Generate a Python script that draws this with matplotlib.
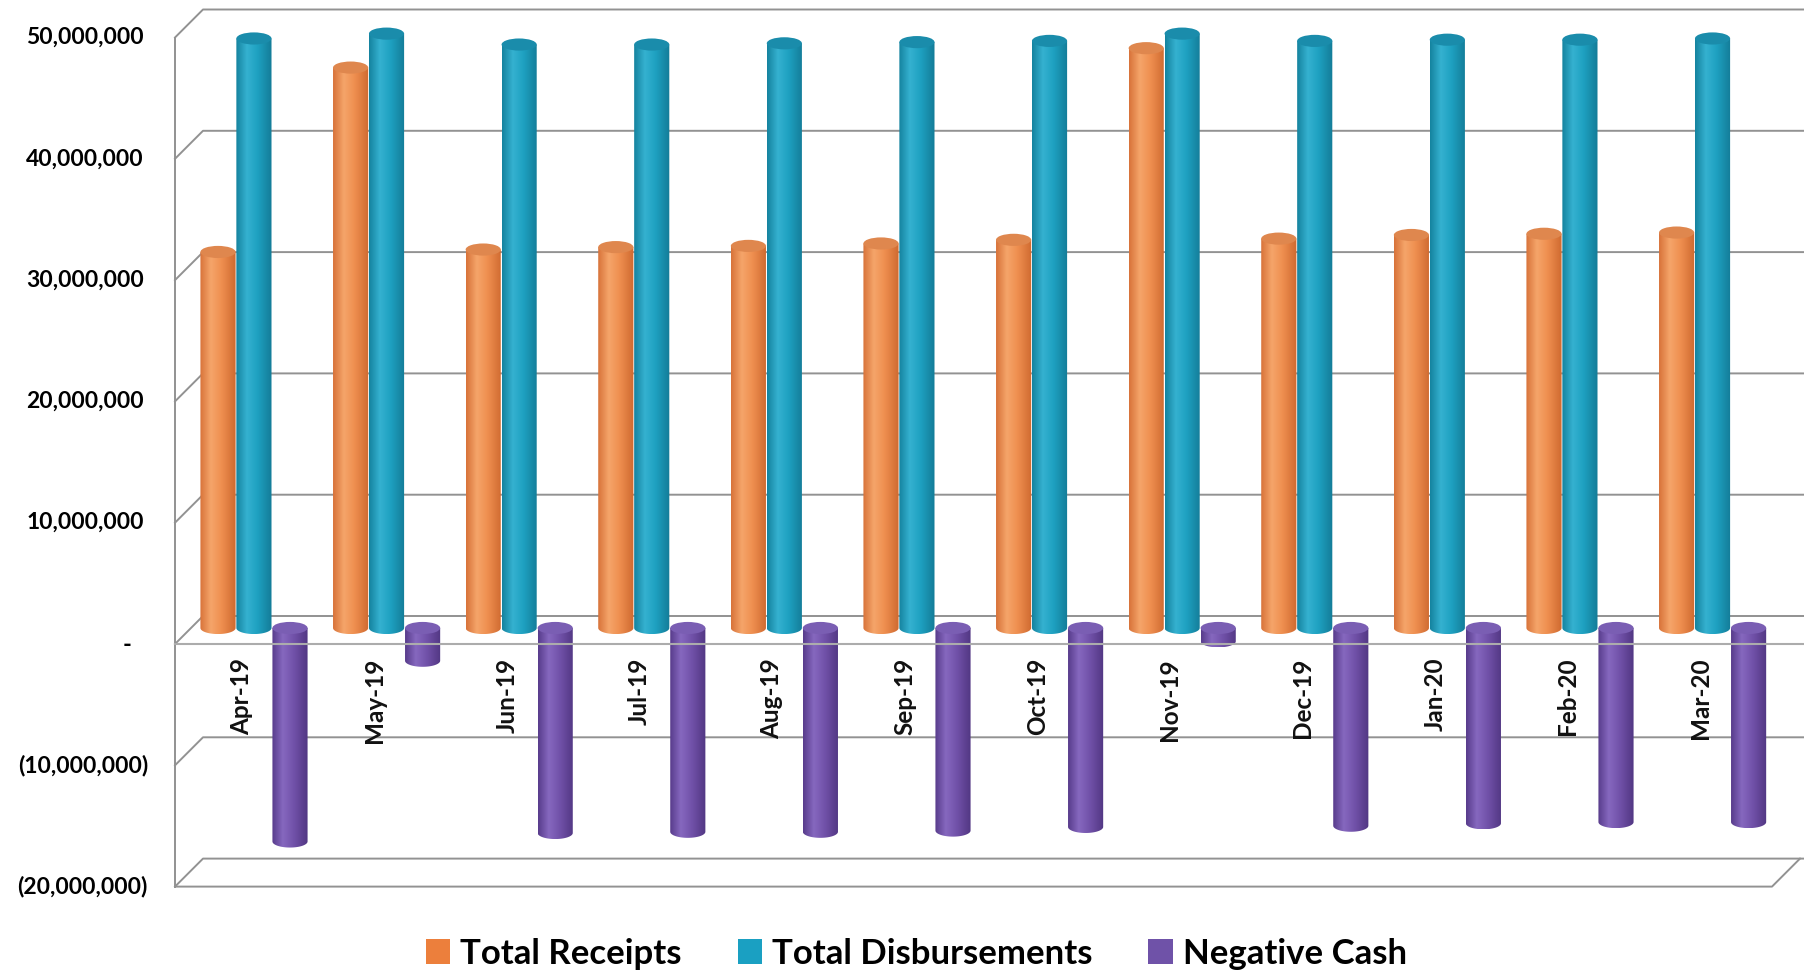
import matplotlib
matplotlib.use('Agg')
import matplotlib.pyplot as plt
import numpy as np
from matplotlib.patches import Ellipse, PathPatch, Patch
from matplotlib.path import Path
from matplotlib.colors import LinearSegmentedColormap

months = ['Apr-19', 'May-19', 'Jun-19', 'Jul-19', 'Aug-19', 'Sep-19',
          'Oct-19', 'Nov-19', 'Dec-19', 'Jan-20', 'Feb-20', 'Mar-20']
receipts = [31.0, 46.2, 31.2, 31.4, 31.5, 31.7, 32.0, 47.8, 32.1, 32.4, 32.5, 32.6]       # millions
disbursements = [48.6, 49.0, 48.1, 48.1, 48.2, 48.3, 48.4, 49.0, 48.4, 48.5, 48.5, 48.6]  # millions
negative_cash = [-17.6, -2.7, -16.9, -16.8, -16.8, -16.7, -16.4, -1.1, -16.3, -16.1, -16.0, -16.0]
y_ticks = [50, 40, 30, 20, 10, 0, -10, -20]
y_tick_labels = ['50,000,000', '40,000,000', '30,000,000', '20,000,000', '10,000,000', '-',
                 '(10,000,000)', '(20,000,000)']
series_names = ['Total Receipts', 'Total Disbursements', 'Negative Cash']

FONT = ['Lato', 'DejaVu Sans']
GRID = '#929292'

# pixel geometry of the pseudo-3d frame
W, H = 1804, 973
PX_X = 132.6        # px per category
PX_M = 12.13        # px per million
X0_PX = 241.6       # px of first category
Y0_PX = 644         # px (from top) of the front zero line


def px_x(p):
    return (p - X0_PX) / PX_X


def cmap_for(c_dark, c_light, c_mid, c_edge):
    return LinearSegmentedColormap.from_list('c', [(0, c_dark), (0.3, c_light), (0.6, c_mid), (1, c_edge)])


styles = [
    (cmap_for('#d8733a', '#f5a56a', '#ef8f50', '#cf6a30'), '#df874e'),
    (cmap_for('#15839f', '#35b1d0', '#1ea1c1', '#147c98'), '#1a8cab'),
    (cmap_for('#583c8c', '#8668bf', '#7252aa', '#523783'), '#7a5eb3'),
]

ELL_H = 1.0     # ellipse height, millions
BAR_W = 0.265
BASE = 1.32     # bars stand a little behind the front edge
offsets = [-0.178, 0.093, 0.365]

grad = np.linspace(0, 1, 64).reshape(1, -1)


def cylinder(ax, xc, v0, v1, cmap, top_color, z):
    lo, hi = min(v0, v1), max(v0, v1)
    t = np.linspace(np.pi, 2 * np.pi, 40)
    verts = [(xc - BAR_W / 2, hi)] + list(zip(xc + BAR_W / 2 * np.cos(t), lo + ELL_H / 2 * np.sin(t))) \
        + [(xc + BAR_W / 2, hi), (xc - BAR_W / 2, hi)]
    clip = PathPatch(Path(verts, closed=True), facecolor='none', edgecolor='none')
    ax.add_patch(clip)
    im = ax.imshow(grad, cmap=cmap, extent=[xc - BAR_W / 2, xc + BAR_W / 2, lo - ELL_H / 2, hi],
                   aspect='auto', zorder=z, interpolation='bilinear')
    im.set_clip_path(clip)
    ax.add_patch(Ellipse((xc, hi), BAR_W, ELL_H, facecolor=top_color, edgecolor='none', zorder=z + 0.1))


fig = plt.figure(figsize=(W / 100, H / 100), dpi=100)
ax = fig.add_axes([0, 0, 1, 1])
ax.axis('off')

x_front = px_x(175)
dx = 28 / PX_X
dy = 28 / PX_M
x_right = px_x(W + 40)

# walls and gridlines
ax.plot([x_front, x_front], [-20, 50], color=GRID, lw=1.4, zorder=1)
for v in y_ticks:
    ax.plot([x_front, x_front + dx, x_right], [v, v + dy, v + dy], color=GRID, lw=1.4, zorder=1)
# bottom floor box
xr_f = px_x(1772)
ax.plot([x_front, xr_f, xr_f + dx], [-20, -20, -20 + dy], color=GRID, lw=1.4, zorder=1)

x = np.arange(len(months))
for k, vals in enumerate([receipts, disbursements, negative_cash]):
    cm, top = styles[k]
    for i, v in enumerate(vals):
        cylinder(ax, x[i] + offsets[k], BASE, BASE + v, cm, top, 3 + k)

# front edge of the zero plane
ax.plot([x_front, x_right], [0, 0], color='#acacac', lw=1.5, zorder=10)

for i, m in enumerate(months):
    ax.text(x[i], -1.15, m, rotation=90, ha='center', va='top', fontsize=17.5,
            fontweight='bold', family=FONT, color='#111111', zorder=11)

for v, lab in zip(y_ticks, y_tick_labels):
    if lab == '-':
        ax.text(px_x(127), v, lab, ha='center', va='center', fontsize=17, fontweight='bold', family=FONT)
    elif lab.startswith('('):
        ax.text(px_x(148), v, lab, ha='right', va='center', fontsize=16.5, fontweight='bold', family=FONT)
    else:
        ax.text(px_x(144), v, lab, ha='right', va='center', fontsize=16.5, fontweight='bold', family=FONT)

ax.set_xlim(px_x(0), px_x(W))
ax.set_ylim(-(H - Y0_PX) / PX_M, Y0_PX / PX_M)

handles = [Patch(facecolor=c, edgecolor='none') for c in ['#ec7f3c', '#1aa0c2', '#6f52a8']]
fig.legend(handles, series_names, loc='center', bbox_to_anchor=(0.508, 0.02), ncol=3, frameon=False,
           prop={'family': FONT, 'weight': 'bold', 'size': 25}, handlelength=0.7, handleheight=0.7,
           handletextpad=0.3, columnspacing=1.6)

fig.savefig('out.png', dpi=100)
